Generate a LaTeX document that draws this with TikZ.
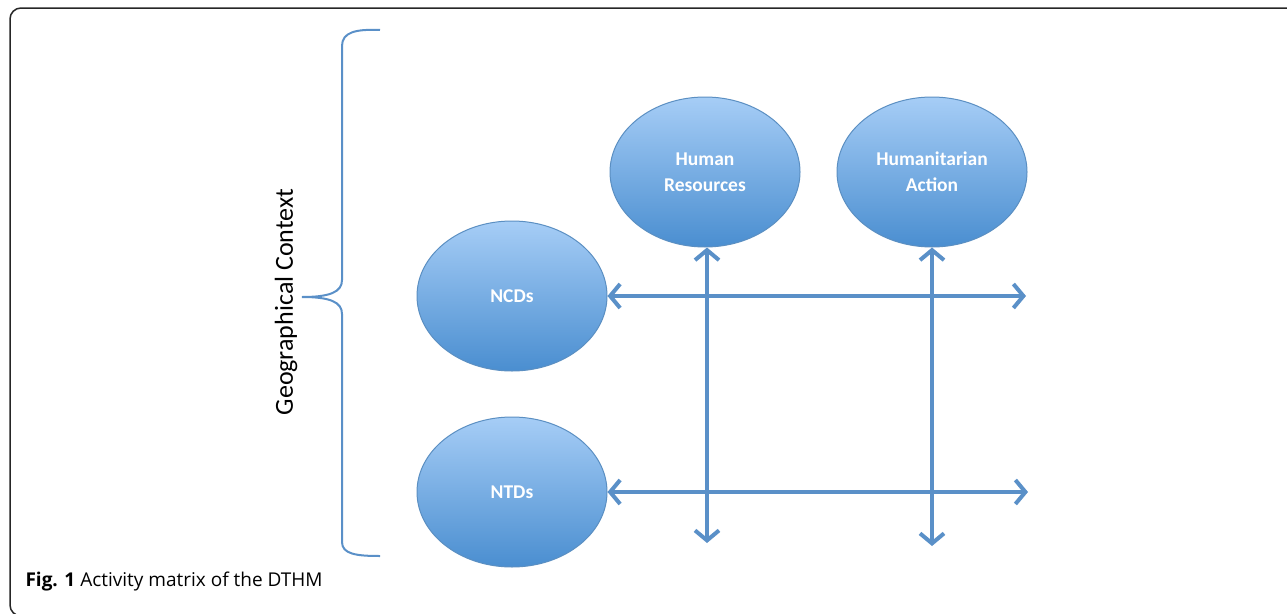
\documentclass[tikz,border=0pt]{standalone}
\usepackage{fontspec}
\setmainfont{Carlito}
\newfontfamily\capfont{Open Sans}
\usetikzlibrary{shapes.geometric,arrows.meta}
\definecolor{lineblue}{HTML}{5A90C8}
\definecolor{topblue}{HTML}{A6CDF6}
\definecolor{botblue}{HTML}{4A8ED0}
\definecolor{edgeblue}{HTML}{5B8FC2}
\tikzset{
  bubble/.style={ellipse, draw=edgeblue, line width=1pt, top color=topblue, bottom color=botblue,
    minimum width=190pt, minimum height=150pt, inner sep=0pt, text=white, align=center,
    font=\fontsize{19.5}{26}\selectfont\bfseries},
  link/.style={draw=lineblue, line width=4pt, {Straight Barb[length=10pt,width=24pt]}-{Straight Barb[length=10pt,width=24pt]}},
  brace/.style={draw=lineblue, line width=2pt},
  frame/.style={draw=black!85, line width=1.5pt, rounded corners=11pt}
}
\begin{document}
\begin{tikzpicture}[x=1pt,y=-1pt]
\useasboundingbox (0,0) rectangle (1287,613);
\clip (0,0) rectangle (1287,613);
\draw[frame] (1300,8) -- (10,8) -- (10,616) -- (1300,616);
% brace
\draw[brace] (380,30) .. controls (356,29) and (342,32) .. (342,46) -- (342,280)
  .. controls (342,292) and (330,297) .. (302,297)
  .. controls (330,297) and (342,302) .. (342,314) -- (342,542)
  .. controls (342,554) and (356,556) .. (380,556);
\node[rotate=90, font=\fontsize{26}{30}\selectfont] (geo) at (286,302) {Geographical Context};
% ellipses
\node[bubble] (hr) at (705,172) {Human\\Resources};
\node[bubble] (ha) at (932,172) {Humanitarian\\Action};
\node[bubble] (ncd) at (512,296) {NCDs};
\node[bubble] (ntd) at (512,492) {NTDs};
% free ends
\coordinate (e1) at (1026,296);
\coordinate (e2) at (1028,492);
\coordinate (e3) at (707,543);
\coordinate (e4) at (932,546);
\draw[link] (ncd.east) -- (e1);
\draw[link] (ntd.east) -- (e2);
\draw[link] (hr.south -| e3) -- (e3);
\draw[link] (ha.south) -- (e4);
% caption
\node[anchor=west, font=\capfont\fontsize{19}{22}\selectfont] (cap) at (22,582) {\textbf{Fig. 1} Activity matrix of the DTHM};
\end{tikzpicture}
\end{document}
